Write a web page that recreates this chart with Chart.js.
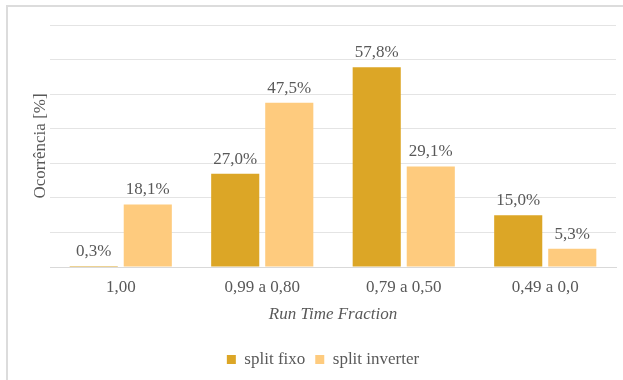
<!DOCTYPE html>
<html>
<head>
<meta charset="utf-8">
<script src="https://cdn.jsdelivr.net/npm/chart.js@4"></script>
<style>
  html, body { margin: 0; padding: 0; background: #fff; overflow: hidden; }
  #wrap { position: relative; width: 623px; height: 380px; }
  #frame { position: absolute; left: 6px; top: 5px; width: 700px; height: 400px;
           border-left: 2px solid #dcdcdc; border-top: 2px solid #dcdcdc; pointer-events: none; }
</style>
</head>
<body>
<div id="wrap">
  <canvas id="runTimeChart" width="623" height="380"></canvas>
  <div id="frame"></div>
</div>
<script>
const faixas = ['1,00', '0,99 a 0,80', '0,79 a 0,50', '0,49 a 0,0'];
const splitFixo = [0.3, 27.0, 57.8, 15.0];
const splitInverter = [18.1, 47.5, 29.1, 5.3];

const textColor = '#595959';
const serif = "'Liberation Serif', 'Times New Roman', serif";

Chart.defaults.font.family = serif;
Chart.defaults.font.size = 17;
Chart.defaults.color = textColor;

// percent labels above each bar, decimal comma
const barLabels = {
  id: 'barLabels',
  afterDatasetsDraw(chart) {
    const ctx = chart.ctx;
    ctx.save();
    ctx.font = '17px ' + serif;
    ctx.fillStyle = textColor;
    ctx.textAlign = 'center';
    ctx.textBaseline = 'alphabetic';
    chart.data.datasets.forEach((ds, i) => {
      chart.getDatasetMeta(i).data.forEach((bar, j) => {
        const txt = ds.data[j].toFixed(1).replace('.', ',') + '%';
        ctx.fillText(txt, bar.x, bar.y - 10);
      });
    });
    ctx.restore();
  }
};

new Chart(document.getElementById('runTimeChart'), {
  type: 'bar',
  data: {
    labels: faixas,
    datasets: [
      { label: 'split fixo', data: splitFixo, backgroundColor: '#DCA626' },
      { label: 'split inverter', data: splitInverter, backgroundColor: '#FECB7E' }
    ]
  },
  options: {
    responsive: false,
    animation: false,
    categoryPercentage: 0.764,
    barPercentage: 0.89,
    layout: { padding: { top: 25, right: 7, bottom: 2, left: 30 } },
    plugins: {
      tooltip: { enabled: false },
      legend: {
        position: 'bottom',
        labels: {
          boxWidth: 9,
          boxHeight: 9,
          padding: 10,
          color: textColor,
          font: { family: serif, size: 17 }
        }
      }
    },
    scales: {
      x: {
        grid: { display: false, drawTicks: false },
        border: { display: true, color: '#d9d9d9', width: 1 },
        ticks: {
          color: textColor,
          padding: 10,
          maxRotation: 0,
          autoSkip: false,
          font: { family: serif, size: 17 }
        },
        title: {
          display: true,
          text: 'Run Time Fraction',
          color: textColor,
          padding: { top: 0, bottom: 16 },
          font: { family: serif, size: 17, style: 'italic' }
        },
        afterFit(scale) { scale.height = 74; }
      },
      y: {
        min: 0,
        max: 70,
        ticks: { display: false, stepSize: 10 },
        grid: { color: '#e4e4e4', lineWidth: 1, drawTicks: false },
        border: { display: false },
        title: {
          display: true,
          text: 'Ocorrência [%]',
          color: textColor,
          padding: { top: 0, bottom: 0 },
          font: { family: serif, size: 17 }
        },
        afterFit(scale) { scale.width = 20; }
      }
    }
  },
  plugins: [barLabels]
});
</script>
</body>
</html>
